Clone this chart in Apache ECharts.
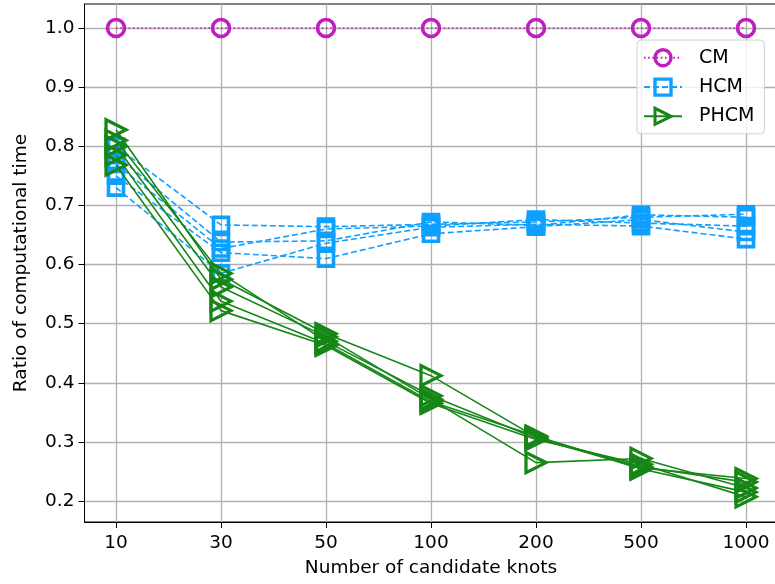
<!DOCTYPE html>
<html><head><meta charset="utf-8">
<script src="https://cdn.jsdelivr.net/npm/echarts@6/dist/echarts.min.js"></script>
<style>html,body{margin:0;padding:0;background:#fff}#c{width:775px;height:584px}</style>
</head><body><div id="c"></div>
<script>
const categories = ['10', '30', '50', '100', '200', '500', '1000'];
const yTicks = [0.2, 0.3, 0.4, 0.5, 0.6, 0.7, 0.8, 0.9, 1.0];

const cm = [1.0, 1.0, 1.0, 1.0, 1.0, 1.0, 1.0];

const hcm1 = [0.800, 0.667, 0.664, 0.668, 0.672, 0.680, 0.685];
const hcm2 = [0.785, 0.638, 0.640, 0.672, 0.666, 0.684, 0.680];
const hcm3 = [0.770, 0.627, 0.660, 0.665, 0.676, 0.670, 0.665];
const hcm4 = [0.750, 0.620, 0.610, 0.652, 0.664, 0.676, 0.655];
const hcm5 = [0.730, 0.585, 0.636, 0.663, 0.668, 0.665, 0.643];

const phcm1 = [0.828, 0.575, 0.483, 0.412, 0.308, 0.258, 0.232];
const phcm2 = [0.810, 0.585, 0.470, 0.378, 0.306, 0.256, 0.238];
const phcm3 = [0.800, 0.562, 0.478, 0.372, 0.265, 0.272, 0.222];
const phcm4 = [0.785, 0.538, 0.466, 0.368, 0.310, 0.254, 0.215];
const phcm5 = [0.768, 0.522, 0.463, 0.365, 0.304, 0.262, 0.207];

const C_CM = '#bf1fbf', C_HCM = '#0ea0ff', C_PHCM = '#168716';
const FONT = 'DejaVu Sans';

function pts(arr) { return arr.map((v, i) => [i, v]); }

function cmSeries(arr) {
  return {
    type: 'line', name: 'CM', data: pts(arr), z: 3,
    symbol: 'circle', symbolSize: 17, showAllSymbol: true,
    lineStyle: { color: C_CM, width: 1.6, type: [1.6, 2.6] },
    itemStyle: { color: 'rgba(255,255,255,0)', borderColor: C_CM, borderWidth: 3.6 }
  };
}
function hcmSeries(arr) {
  return {
    type: 'line', name: 'HCM', data: pts(arr), z: 4,
    symbol: 'rect', symbolSize: 15, showAllSymbol: true,
    lineStyle: { color: C_HCM, width: 1.6, type: [6, 3] },
    itemStyle: { color: 'rgba(255,255,255,0)', borderColor: C_HCM, borderWidth: 3.6 }
  };
}
function phcmSeries(arr) {
  return {
    type: 'line', name: 'PHCM', data: pts(arr), z: 5,
    symbol: 'triangle', symbolSize: 20, symbolRotate: -90, showAllSymbol: true,
    lineStyle: { color: C_PHCM, width: 1.6 },
    itemStyle: { color: 'rgba(255,255,255,0)', borderColor: C_PHCM, borderWidth: 3.2 }
  };
}

const chart = echarts.init(document.getElementById('c'), null, { renderer: 'canvas' });
chart.setOption({
  animation: false,
  backgroundColor: '#fff',
  textStyle: { fontFamily: FONT },
  grid: {
    left: 84.5, top: 4, width: 693, height: 518,
    show: true, borderColor: '#000', borderWidth: 1,
    outerBoundsMode: 'none', containLabel: false
  },
  legend: {
    data: [
      { name: 'CM', itemStyle: { borderWidth: 3.4 } },
      { name: 'HCM', itemStyle: { borderWidth: 3.4 } },
      { name: 'PHCM', itemStyle: { borderWidth: 3 } }
    ],
    orient: 'vertical', left: 637, top: 40,
    padding: [8, 10, 8, 6],
    itemWidth: 38, itemHeight: 20, itemGap: 10,
    backgroundColor: 'rgba(255,255,255,0.8)',
    borderColor: '#d0d0d0', borderWidth: 1, borderRadius: 4,
    textStyle: { fontFamily: FONT, fontSize: 19, color: '#000', padding: [0, 0, 0, 12] }
  },
  xAxis: {
    type: 'value', min: -0.3, max: 6.3,
    name: 'Number of candidate knots', nameLocation: 'middle', nameGap: 37,
    nameTextStyle: { fontFamily: FONT, fontSize: 18.5, color: '#000' },
    axisLine: { show: true, onZero: false, lineStyle: { color: '#000', width: 1 } },
    axisTick: { show: true, inside: false, length: 6, customValues: [0, 1, 2, 3, 4, 5, 6], lineStyle: { color: '#000', width: 1 } },
    axisLabel: { customValues: [0, 1, 2, 3, 4, 5, 6], formatter: v => categories[Math.round(v)], margin: 12, fontFamily: FONT, fontSize: 18.5, color: '#000' },
    splitLine: { show: true, lineStyle: { color: '#b0b0b0', width: 1.3 } }
  },
  yAxis: {
    type: 'value', min: 0.1645, max: 1.0406,
    name: 'Ratio of computational time', nameLocation: 'middle', nameGap: 54,
    nameTextStyle: { fontFamily: FONT, fontSize: 18.5, color: '#000' },
    axisLine: { show: true, onZero: false, lineStyle: { color: '#000', width: 1 } },
    axisTick: { show: true, inside: false, length: 6, customValues: yTicks, lineStyle: { color: '#000', width: 1 } },
    axisLabel: { customValues: yTicks, formatter: v => v.toFixed(1), margin: 10, fontFamily: FONT, fontSize: 18.5, color: '#000' },
    splitLine: { show: true, lineStyle: { color: '#b0b0b0', width: 1.3 } }
  },
  series: [
    cmSeries(cm),
    hcmSeries(hcm1), hcmSeries(hcm2), hcmSeries(hcm3), hcmSeries(hcm4), hcmSeries(hcm5),
    phcmSeries(phcm1), phcmSeries(phcm2), phcmSeries(phcm3), phcmSeries(phcm4), phcmSeries(phcm5)
  ]
});
</script>
</body></html>
